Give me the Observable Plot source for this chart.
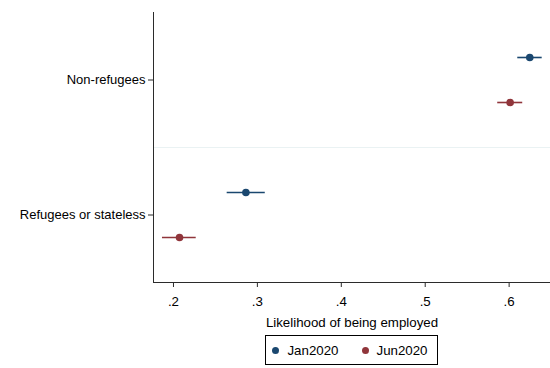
<!DOCTYPE html>
<html>
<head>
<meta charset="utf-8">
<script src="https://cdn.jsdelivr.net/npm/d3@7"></script>
<script src="https://cdn.jsdelivr.net/npm/@observablehq/plot@0.6"></script>
<style>
  html, body { margin: 0; padding: 0; background: #fff; }
  body { width: 550px; height: 368px; overflow: hidden; font-family: "Liberation Sans", Arial, sans-serif; }
  #legendWrap { position: relative; width: 550px; height: 36px; }
  #legendRow { position: absolute; left: 153px; width: 397px; top: 3px; display: flex; justify-content: center; }
  #legendBox { border: 1px solid #000; height: 28px; display: flex; align-items: center; padding: 0 9px 0 6px; font-size: 13.3px; color: #000; }
  .item { display: flex; align-items: center; }
  .item + .item { margin-left: 23px; }
  .sw { width: 7px; height: 7px; border-radius: 50%; margin-right: 8px; }
</style>
</head>
<body>
<div id="chart"></div>
<div id="legendWrap"><div id="legendRow"><div id="legendBox"></div></div></div>
<script>
// ---- data ----
const categories = ["Non-refugees", "Refugees or stateless"];
const periods = ["Jan2020", "Jun2020"];
const colors = ["#1a476f", "#90353b"];
// point estimates and 95% CI bounds, per category (same order as categories)
const janEst = [0.6246, 0.2863];
const janLo  = [0.6103, 0.2640];
const janHi  = [0.6394, 0.3094];
const junEst = [0.6012, 0.2072];
const junLo  = [0.5864, 0.1869];
const junHi  = [0.6162, 0.2271];
const xTicks = [0.2, 0.3, 0.4, 0.5, 0.6];
const xTickLabels = [".2", ".3", ".4", ".5", ".6"];
const xDomain = [0.1762, 0.6493];
const xLabel = "Likelihood of being employed";

const rows = categories.flatMap((c, i) => [
  {group: c, period: periods[0], est: janEst[i], lo: janLo[i], hi: janHi[i]},
  {group: c, period: periods[1], est: junEst[i], lo: junLo[i], hi: junHi[i]}
]);

const axisColor = "#2b2b2b";

const chart = Plot.plot({
  width: 550,
  height: 332,
  marginLeft: 153,
  marginRight: 0,
  marginTop: 12,
  marginBottom: 50,
  style: {fontFamily: "'Liberation Sans', Arial, sans-serif", fontSize: "13px", color: "#000", background: "#fff"},
  x: {domain: xDomain},
  y: {type: "point", domain: periods, padding: 1, axis: null},
  fy: {domain: categories, padding: 0, label: null},
  color: {domain: periods, range: colors},
  marks: [
    Plot.frame({anchor: "bottom", stroke: "#eaf2f3", strokeOpacity: 1}),
    Plot.frame({anchor: "left", stroke: axisColor, strokeOpacity: 1}),
    Plot.frame({anchor: "bottom", stroke: axisColor, strokeOpacity: 1, facetAnchor: "bottom"}),
    Plot.ruleY(rows, {fy: "group", y: "period", x1: "lo", x2: "hi", stroke: "period", strokeWidth: 1.6}),
    Plot.dot(rows, {fy: "group", y: "period", x: "est", fill: "period", r: 3.8}),
    Plot.axisX({
      ticks: xTicks,
      tickFormat: d => xTickLabels[xTicks.indexOf(d)],
      tickSize: 5,
      tickPadding: 9,
      stroke: axisColor,
      fontSize: 13.3,
      label: xLabel,
      labelAnchor: "center",
      labelArrow: "none",
      labelOffset: 44
    }),
    Plot.axisFy({
      anchor: "left",
      tickSize: 5,
      tickPadding: 3,
      stroke: axisColor,
      fontSize: 13,
      label: null
    })
  ]
});
document.getElementById("chart").appendChild(chart);

// legend built from the same arrays
const box = document.getElementById("legendBox");
periods.forEach((p, i) => {
  const it = document.createElement("div");
  it.className = "item";
  const sw = document.createElement("div");
  sw.className = "sw";
  sw.style.background = colors[i];
  const t = document.createElement("span");
  t.textContent = p;
  it.appendChild(sw);
  it.appendChild(t);
  box.appendChild(it);
});
</script>
</body>
</html>
